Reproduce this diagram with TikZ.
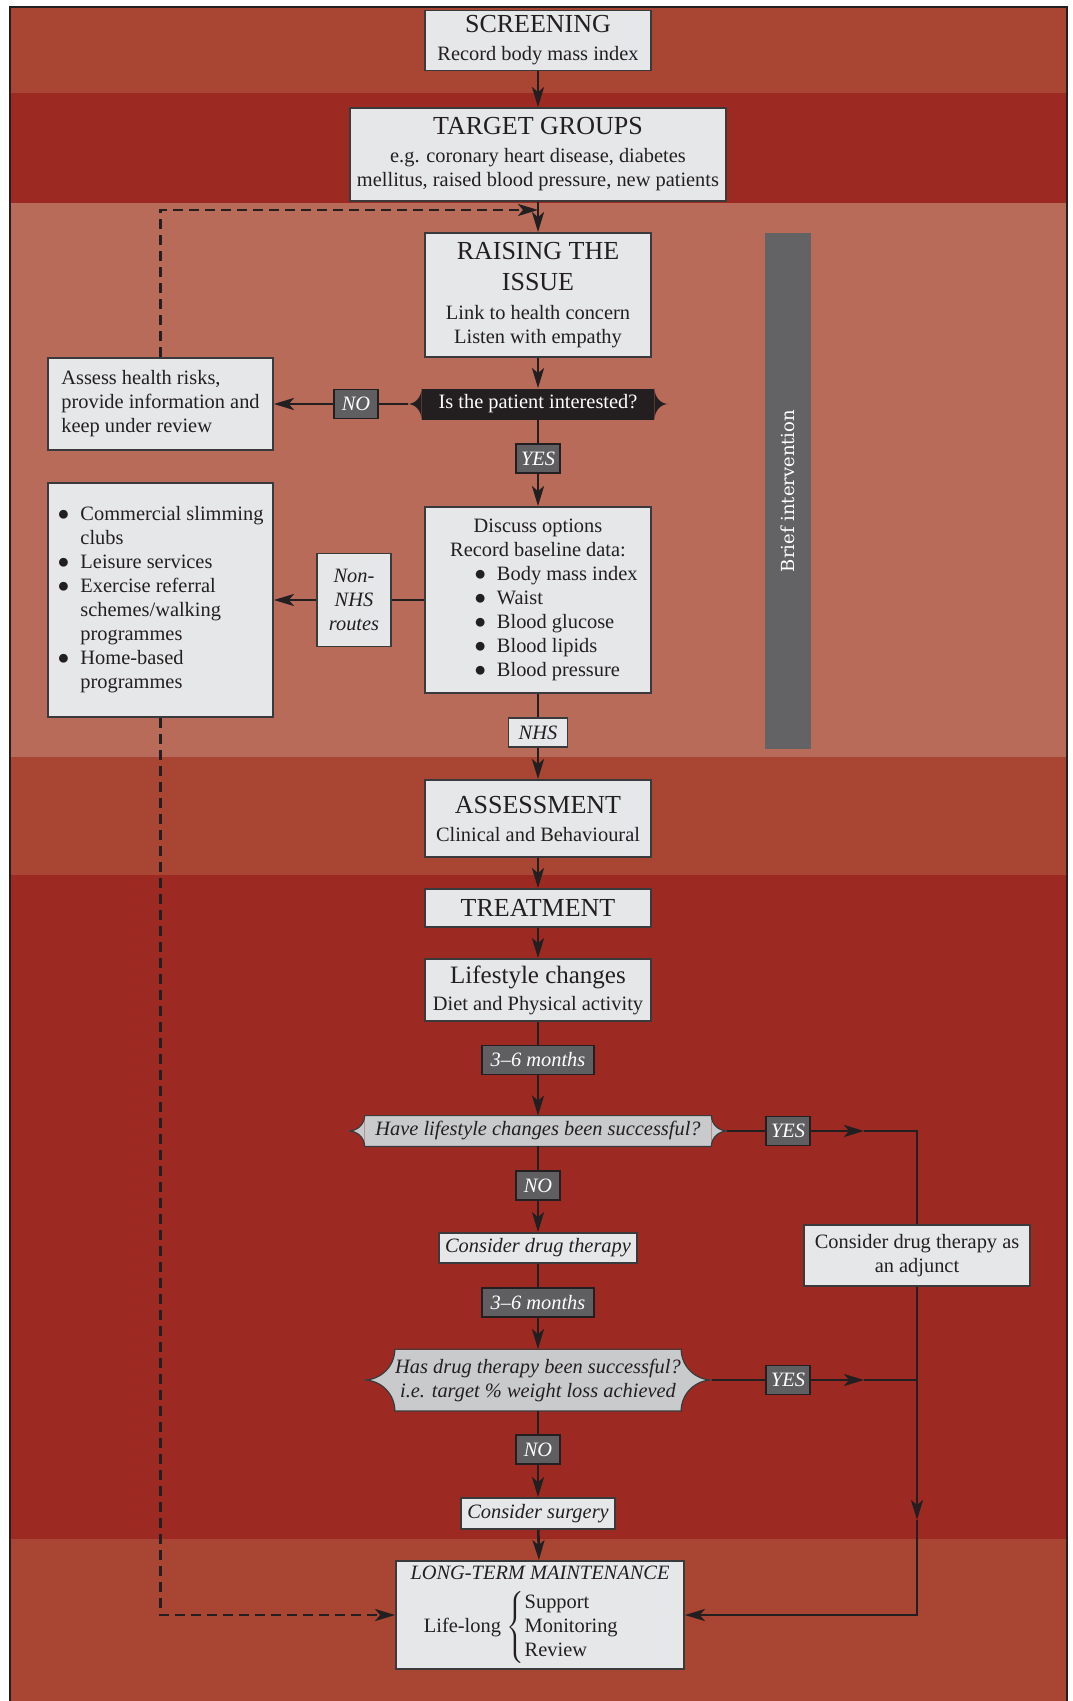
\documentclass[tikz,border=0pt]{standalone}
\usepackage{fontspec}
\setmainfont{Liberation Serif}
\newfontfamily\briefont{DejaVu Serif}
\usetikzlibrary{positioning}
\usetikzlibrary{calc}
\usetikzlibrary{arrows.meta}

\definecolor{bandA}{HTML}{A84533}
\definecolor{bandB}{HTML}{9C2A22}
\definecolor{bandC}{HTML}{B86B58}
\definecolor{boxfill}{HTML}{E6E7E8}
\definecolor{boxline}{HTML}{3A3A3C}
\definecolor{labfill}{HTML}{5F5F61}
\definecolor{qfill}{HTML}{C9CACC}
\definecolor{ink}{HTML}{231F20}
\definecolor{barfill}{HTML}{636365}

\newcommand{\hd}[1]{{\fontsize{13}{15}\selectfont #1}}
\newcommand{\bul}{\makebox[11.5pt][l]{●}}
\newcommand{\ind}{\hspace*{11.5pt}}
\newcommand{\blist}[1]{\makebox[64pt][l]{\bul #1}}

% question outline with pointed ends: node, spike, fill, line
\newcommand{\decision}[4]{%
  \coordinate (#1-r) at ($(#1.east)+(#2,0)$);
  \coordinate (#1-l) at ($(#1.west)-(#2,0)$);
  \fill[#3] (#1.north east) to[out=-90,in=180] (#1-r) to[out=180,in=90] (#1.south east) -- cycle;
  \fill[#3] (#1.north west) to[out=-90,in=0] (#1-l) to[out=0,in=90] (#1.south west) -- cycle;
  \draw[#4] (#1.north west) -- (#1.north east) to[out=-90,in=180] (#1-r) to[out=180,in=90] (#1.south east)
    -- (#1.south west) to[out=90,in=0] (#1-l) to[out=0,in=-90] (#1.north west);
}

\begin{document}
\begin{tikzpicture}[x=0.5pt, y=-0.5pt,
  every node/.style={font=\fontsize{10.2}{12}\selectfont, text=ink},
  box/.style={draw=boxline, fill=boxfill, line width=0.9pt, align=center, inner sep=0pt},
  lab/.style={draw=ink, fill=labfill, text=white, font=\fontsize{10.2}{12}\selectfont\itshape, line width=0.8pt,
    minimum height=14.5pt, minimum width=22pt, inner xsep=2.5pt, inner ysep=0pt},
  route/.style={box, font=\fontsize{10.2}{12}\selectfont\itshape, inner xsep=3pt},
  quest/.style={fill=qfill, inner sep=0pt, align=center, font=\fontsize{10.2}{12}\selectfont\itshape},
  link/.style={draw=ink, line width=1.3pt},
  arr/.style={link, -{Stealth[length=10pt,width=6pt,inset=2.5pt]}},
  dashlink/.style={arr, dash pattern=on 5pt off 3pt}]
\useasboundingbox (0,0) rectangle (1072,1701);

% bands
\fill[bandA] (10,7) rectangle (1067,93);
\fill[bandB] (10,93) rectangle (1067,203);
\fill[bandC] (10,203) rectangle (1067,757);
\fill[bandA] (10,757) rectangle (1067,875);
\fill[bandB] (10,875) rectangle (1067,1539);
\fill[bandA] (10,1539) rectangle (1067,1701);
\draw[ink, line width=0.8pt] (10,1701) -- (10,7) -- (1067,7) -- (1067,1701);

\node[fill=barfill, rotate=90, minimum width=258pt, minimum height=23pt, inner sep=0pt, text=white,
  font=\briefont\fontsize{9}{11}\selectfont] (brief) at (788,491) {Brief intervention};

% main column
\node[box, minimum width=113pt, minimum height=30pt] (scr) at (538,40.5) {\hd{SCREENING}\\[2pt] Record body mass index};
\node[box, minimum width=188pt, minimum height=46.5pt] (tg) at (538,154.5)
  {\hd{TARGET GROUPS}\\[2pt] e.g. coronary heart disease, diabetes\\ mellitus, raised blood pressure, new patients};
\node[box, minimum width=113pt, minimum height=62pt] (rai) at (538,295)
  {\hd{RAISING THE}\\[3.5pt]\hd{ISSUE}\\[2.5pt] Link to health concern\\ Listen with empathy};
\node[quest, fill=ink, text=white, font=\fontsize{10.2}{12}\selectfont, minimum width=116pt, minimum height=15.5pt] (q1) at (538,404) {Is the patient interested?};
\decision{q1}{14}{ink}{draw=none}
\node[lab] (no1) at (356,404) {NO};
\node[box, align=left, minimum width=112.5pt, minimum height=46pt] (assess) at (160.5,404)
  {Assess health risks,\\ provide information and\\ keep under review};
\node[lab] (yes1) at (538,458.5) {YES};
\node[box, minimum width=113pt, minimum height=93pt] (disc) at (538,600)
  {Discuss options\\ Record baseline data:\\ \blist{Body mass index}\\ \blist{Waist}\\ \blist{Blood glucose}\\ \blist{Blood lipids}\\ \blist{Blood pressure}};
\node[route, minimum width=37pt, minimum height=46.5pt] (nonnhs) at (354,600) {Non-\\NHS\\routes};
\node[box, align=left, minimum width=112.5pt, minimum height=117pt] (comm) at (160.5,600)
  {\bul Commercial slimming\\ \ind clubs\\ \bul Leisure services\\ \bul Exercise referral\\ \ind schemes/walking\\ \ind programmes\\ \bul Home-based\\ \ind programmes};
\node[route, minimum width=29.5pt, minimum height=14.5pt] (nhs) at (538,732.5) {NHS};
\node[box, minimum width=113pt, minimum height=38.5pt] (assm) at (538,818.5) {\hd{ASSESSMENT}\\[2pt] Clinical and Behavioural};
\node[box, minimum width=113pt, minimum height=19pt] (treat) at (538,908) {\hd{TREATMENT}};
\node[box, minimum width=113pt, minimum height=31pt] (life) at (538,990)
  {{\fontsize{12.5}{14}\selectfont Lifestyle changes}\\[1.5pt] Diet and Physical activity};
\node[lab, minimum width=56pt] (m1) at (538,1060) {3--6 months};
\node[quest, minimum width=173pt, minimum height=15pt] (q2) at (538,1131) {Have lifestyle changes been successful?};
\decision{q2}{16}{qfill}{draw=boxline, line width=0.6pt}
\node[lab] (no2) at (538,1185.5) {NO};
\node[route, minimum width=93.5pt, minimum height=15pt] (drug) at (538,1248) {Consider drug therapy};
\node[lab, minimum width=56pt] (m2) at (538,1302.5) {3--6 months};
\node[quest, minimum width=139pt, minimum height=30.5pt] (q3) at (538,1380)
  {Has drug therapy been successful?\\ i.e. target \% weight loss achieved};
\decision{q3}{31}{qfill}{draw=boxline, line width=0.6pt}
\node[lab] (no3) at (538,1449.5) {NO};
\node[route, minimum width=75.5pt, minimum height=15.5pt] (surg) at (538,1513.5) {Consider surgery};
\node[box, minimum width=144pt, minimum height=54pt] (ltm) at (540,1615)
  {\textit{LONG-TERM MAINTENANCE}\\[5pt] Life-long\hspace{3pt}$\left\{\begin{tabular}{@{}l@{}}Support\\ Monitoring\\ Review\end{tabular}\right.$\hspace{18pt}\mbox{}};

% right branch
\node[lab] (yes2) at (788,1131) {YES};
\node[lab] (yes3) at (788,1380) {YES};
\node[box, minimum width=113pt, minimum height=30.5pt] (adj) at (917,1255.5) {Consider drug therapy as\\ an adjunct};
\coordinate (dtop) at (538,210);
\coordinate (j2) at (864,1131);
\coordinate (c2) at (917,1131);
\coordinate (j3) at (864,1380);
\coordinate (c3) at (917,1380);
\coordinate (jv) at (917,1520);
\coordinate (c4) at (917,1615);

% connectors
\draw[arr] (scr) -- (tg);
\draw[arr] (tg) -- (rai);
\draw[arr] (rai) -- (q1);
\draw[link] (q1-l) -- (no1);
\draw[arr] (no1) -- (assess);
\draw[link] (q1) -- (yes1);
\draw[arr] (yes1) -- (disc);
\draw[link] (disc) -- (nonnhs);
\draw[arr] (nonnhs) -- (comm);
\draw[link] (disc) -- (nhs);
\draw[arr] (nhs) -- (assm);
\draw[arr] (assm) -- (treat);
\draw[arr] (treat) -- (life);
\draw[link] (life) -- (m1);
\draw[arr] (m1) -- (q2);
\draw[link] (q2) -- (no2);
\draw[arr] (no2) -- (drug);
\draw[link] (drug) -- (m2);
\draw[arr] (m2) -- (q3);
\draw[link] (q3) -- (no3);
\draw[arr] (no3) -- (surg);
\draw[arr] (surg) -- (ltm);
\draw[link] (q2-r) -- (yes2);
\draw[arr] (yes2) -- (j2);
\draw[link] (j2) -- (c2) -- (adj);
\draw[link] (q3-r) -- (yes3);
\draw[arr] (yes3) -- (j3);
\draw[link] (j3) -- (c3);
\draw[arr] (adj) -- (jv);
\draw[arr] (jv) -- (c4) -- (ltm);
\draw[dashlink] (assess.north) |- (dtop);
\draw[dashlink] (comm.south) |- (ltm.west);
\end{tikzpicture}
\end{document}
